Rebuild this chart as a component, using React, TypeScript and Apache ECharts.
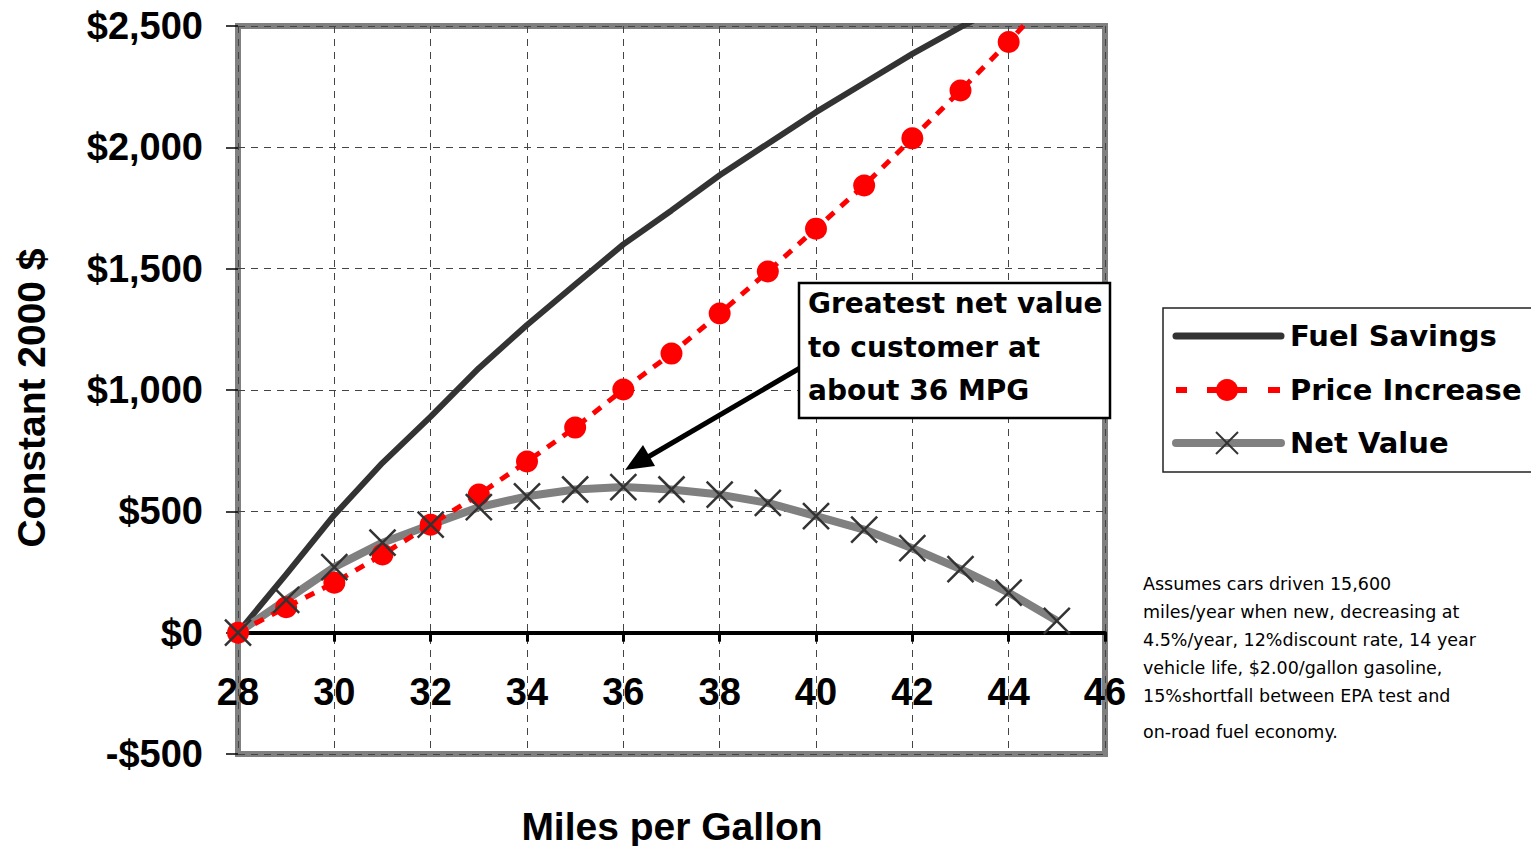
import React, { useEffect, useRef } from "react";
import * as echarts from "echarts";

const mpg = [28, 29, 30, 31, 32, 33, 34, 35, 36, 37, 38, 39, 40, 41, 42, 43, 44, 45];
const fuelSavings = [0, 240, 485, 700, 890, 1090, 1268, 1435, 1600, 1740, 1885, 2015, 2145, 2265, 2385, 2495, 2600, 2700];
const priceIncrease = [0, 105, 206, 322, 445, 569, 705, 845, 1002, 1150, 1315, 1488, 1665, 1843, 2037, 2234, 2434, 2650];
const netValue = [0, 135, 270, 371, 445, 517, 562, 590, 600, 590, 569, 535, 480, 425, 348, 262, 165, 49];

const legendNames = ["Fuel Savings", "Price Increase", "Net Value"];
const annotationLines = ["Greatest net value", "to customer at", "about 36 MPG"];
const noteLines = [
  "Assumes cars driven 15,600",
  "miles/year when new, decreasing at",
  "4.5%/year, 12%discount rate, 14 year",
  "vehicle life, $2.00/gallon gasoline,",
  "15%shortfall between EPA test and",
  "on-road fuel economy.",
];

const SANS = "'Liberation Sans', Arial, sans-serif";
const WIDE = "'DejaVu Sans', sans-serif";

const GRID = { left: 238, right: 426, top: 26, bottom: 92 };
const Y_MIN = -500;
const Y_MAX = 2500;

export default function App() {
  const ref = useRef<HTMLDivElement>(null);

  useEffect(() => {
    document.body.style.margin = "0";
    const chart = echarts.init(ref.current!, null, { renderer: "svg" });
    const pair = (arr: number[]) => mpg.map((m, i) => [m, arr[i]]);
    const cross = "path://M0,0L20,20M20,0L0,20";
    const dashed = { type: [7, 6], color: "#444", width: 1 };

    const plotH = 846 - GRID.top - GRID.bottom;
    const zeroOffset = -(plotH * (0 - Y_MIN)) / (Y_MAX - Y_MIN);

    const legendY = [336, 390, 443];
    const noteY = [584, 612, 640, 668, 696, 732];
    const annY = [303, 347, 390];

    const graphic: any[] = [
      {
        type: "text",
        x: 31,
        y: 398,
        rotation: Math.PI / 2,
        style: {
          text: "Constant 2000 $",
          font: `bold 39px ${SANS}`,
          fill: "#000",
          textAlign: "center",
          textVerticalAlign: "middle",
        },
      },
      {
        type: "text",
        x: 672,
        y: 826,
        style: {
          text: "Miles per Gallon",
          font: `bold 39px ${SANS}`,
          fill: "#000",
          textAlign: "center",
          textVerticalAlign: "middle",
        },
      },
      {
        type: "line",
        shape: { x1: 800, y1: 368, x2: 648, y2: 457 },
        style: { stroke: "#000", lineWidth: 5 },
        z: 20,
      },
      {
        type: "polygon",
        shape: { points: [[625, 470], [655, 466], [643, 445]] },
        style: { fill: "#000" },
        z: 20,
      },
      {
        type: "rect",
        shape: { x: 799, y: 283, width: 311, height: 135 },
        style: { fill: "#fff", stroke: "#000", lineWidth: 2.5 },
        z: 20,
      },
      ...annotationLines.map((t, i) => ({
        type: "text",
        x: 808,
        y: annY[i],
        z: 21,
        style: {
          text: t,
          font: `bold 28px ${WIDE}`,
          fill: "#000",
          textAlign: "left",
          textVerticalAlign: "middle",
        },
      })),
      {
        type: "rect",
        shape: { x: 1163, y: 308, width: 372, height: 164 },
        style: { fill: "#fff", stroke: "#222", lineWidth: 1.5 },
        z: 20,
      },
      {
        type: "line",
        shape: { x1: 1176, y1: legendY[0], x2: 1281, y2: legendY[0] },
        style: { stroke: "#333", lineWidth: 7, lineCap: "round" },
        z: 21,
      },
      {
        type: "line",
        shape: { x1: 1176, y1: legendY[1], x2: 1187, y2: legendY[1] },
        style: { stroke: "#ff0000", lineWidth: 6 },
        z: 21,
      },
      {
        type: "line",
        shape: { x1: 1207, y1: legendY[1], x2: 1247, y2: legendY[1] },
        style: { stroke: "#ff0000", lineWidth: 6 },
        z: 21,
      },
      {
        type: "line",
        shape: { x1: 1268, y1: legendY[1], x2: 1280, y2: legendY[1] },
        style: { stroke: "#ff0000", lineWidth: 6 },
        z: 21,
      },
      {
        type: "circle",
        shape: { cx: 1227, cy: legendY[1], r: 11 },
        style: { fill: "#ff0000" },
        z: 22,
      },
      {
        type: "line",
        shape: { x1: 1176, y1: legendY[2], x2: 1281, y2: legendY[2] },
        style: { stroke: "#808080", lineWidth: 8, lineCap: "round" },
        z: 21,
      },
      {
        type: "line",
        shape: { x1: 1216, y1: legendY[2] - 11, x2: 1238, y2: legendY[2] + 11 },
        style: { stroke: "#333", lineWidth: 2 },
        z: 22,
      },
      {
        type: "line",
        shape: { x1: 1238, y1: legendY[2] - 11, x2: 1216, y2: legendY[2] + 11 },
        style: { stroke: "#333", lineWidth: 2 },
        z: 22,
      },
      ...legendNames.map((t, i) => ({
        type: "text",
        x: 1290,
        y: legendY[i],
        z: 22,
        style: {
          text: t,
          font: `bold 29px ${WIDE}`,
          fill: "#000",
          textAlign: "left",
          textVerticalAlign: "middle",
        },
      })),
      ...noteLines.map((t, i) => ({
        type: "text",
        x: 1143,
        y: noteY[i],
        style: {
          text: t,
          font: `17.5px ${WIDE}`,
          fill: "#000",
          textAlign: "left",
          textVerticalAlign: "middle",
        },
      })),
    ];

    chart.setOption({
      animation: false,
      backgroundColor: "#fff",
      grid: {
        ...GRID,
        show: true,
        borderColor: "#808080",
        borderWidth: 6,
        backgroundColor: "#fff",
      },
      xAxis: {
        type: "value",
        min: 28,
        max: 46,
        interval: 2,
        position: "bottom",
        offset: zeroOffset,
        axisLine: { show: true, onZero: false, lineStyle: { color: "#000", width: 4 } },
        axisTick: { show: true, length: 9, lineStyle: { color: "#000", width: 3 } },
        axisLabel: {
          margin: 40,
          color: "#000",
          fontFamily: SANS,
          fontWeight: "bold",
          fontSize: 38,
        },
        splitLine: { show: true, lineStyle: dashed },
      },
      yAxis: {
        type: "value",
        min: Y_MIN,
        max: Y_MAX,
        interval: 500,
        axisLine: { show: false },
        axisTick: { show: true, length: 12, lineStyle: { color: "#000", width: 1.5 } },
        axisLabel: {
          margin: 35,
          color: "#000",
          fontFamily: SANS,
          fontWeight: "bold",
          fontSize: 38,
          formatter: (v: number) =>
            (v < 0 ? "-" : "") + "$" + Math.abs(v).toLocaleString("en-US"),
        },
        splitLine: { show: true, lineStyle: dashed },
      },
      series: [
        {
          name: "Fuel Savings",
          type: "line",
          data: pair(fuelSavings),
          symbol: "none",
          lineStyle: { color: "#333", width: 6 },
          z: 2,
        },
        {
          name: "Net Value",
          type: "line",
          data: pair(netValue),
          symbol: "none",
          lineStyle: { color: "#808080", width: 8 },
          z: 3,
        },
        {
          name: "Price Increase",
          type: "line",
          data: pair(priceIncrease),
          symbol: "circle",
          symbolSize: 22,
          itemStyle: { color: "#ff0000" },
          lineStyle: { color: "#ff0000", width: 5, type: [10, 9] },
          z: 4,
        },
        {
          name: "Net Value markers",
          type: "line",
          data: pair(netValue),
          symbol: cross,
          symbolSize: 26,
          itemStyle: { color: "transparent", borderColor: "#333", borderWidth: 2.5 },
          lineStyle: { width: 0, opacity: 0 },
          z: 5,
        },
      ],
      graphic,
    });

    return () => chart.dispose();
  }, []);

  return <div ref={ref} style={{ width: 1531, height: 846 }} />;
}
